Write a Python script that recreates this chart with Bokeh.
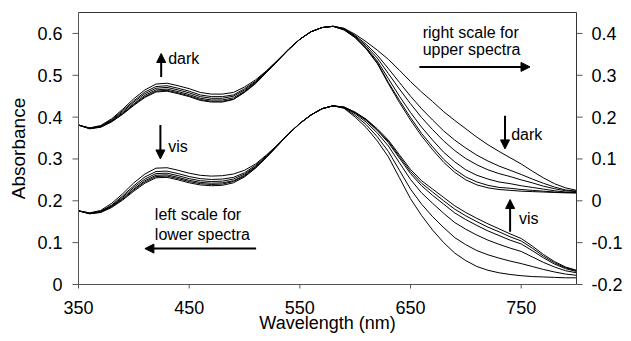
import math
from bokeh.plotting import figure
from bokeh.models import Range1d, Label, Arrow, NormalHead
from bokeh.core.properties import value
from bokeh.embed import file_html
from bokeh.resources import INLINE

wavelength = list(range(350, 801, 10))

# upper spectra (right scale)
upper_1 = [.181, .174, .180, .196, .219, .244, .265, .279, .281, .275,
           .268, .259, .255, .255, .259, .272, .289, .311, .336, .363,
           .386, .404, .414, .417, .408, .390, .363, .328, .280, .235,
           .193, .155, .122, .092, .068, .050, .038, .031, .027, .025,
           .023, .022, .021, .020, .019, .019]
upper_2 = [.181, .174, .178, .194, .216, .239, .260, .273, .275, .269,
           .262, .253, .249, .249, .253, .268, .286, .310, .336, .362,
           .386, .404, .414, .417, .409, .390, .364, .330, .283, .240,
           .199, .161, .129, .099, .075, .057, .045, .037, .032, .030,
           .027, .025, .023, .021, .020, .019]
upper_3 = [.181, .173, .178, .192, .213, .236, .256, .269, .271, .265,
           .258, .249, .245, .245, .250, .265, .284, .309, .335, .362,
           .386, .404, .414, .417, .410, .392, .366, .334, .292, .250,
           .211, .176, .145, .116, .093, .074, .061, .052, .045, .041,
           .036, .032, .028, .024, .021, .020]
upper_4 = [.181, .173, .177, .191, .210, .232, .252, .265, .267, .261,
           .254, .245, .241, .241, .246, .262, .283, .308, .335, .362,
           .386, .404, .414, .417, .411, .393, .370, .341, .304, .267,
           .232, .199, .170, .143, .120, .101, .086, .074, .065, .058,
           .050, .043, .035, .029, .024, .022]
upper_5 = [.181, .173, .176, .189, .208, .230, .249, .262, .264, .258,
           .251, .242, .238, .238, .243, .260, .281, .307, .335, .362,
           .386, .404, .414, .417, .412, .395, .374, .348, .316, .283,
           .250, .220, .193, .167, .145, .126, .109, .095, .083, .073,
           .063, .052, .042, .033, .026, .023]
upper_6 = [.181, .172, .176, .189, .207, .228, .247, .260, .262, .256,
           .249, .240, .236, .236, .242, .259, .280, .307, .334, .362,
           .386, .404, .414, .417, .412, .398, .380, .360, .338, .312,
           .285, .260, .237, .213, .192, .172, .152, .134, .118, .103,
           .088, .071, .055, .041, .031, .025]

# lower spectra (left scale)
lower_1 = [.176, .171, .177, .194, .217, .243, .264, .278, .279, .273,
           .266, .261, .259, .260, .264, .273, .288, .310, .334, .361,
           .385, .405, .420, .427, .421, .400, .375, .343, .305, .255,
           .205, .165, .130, .100, .075, .057, .043, .034, .028, .024,
           .021, .019, .018, .017, .016, .016]
lower_2 = [.176, .171, .175, .190, .212, .236, .257, .270, .271, .265,
           .258, .253, .251, .252, .256, .267, .285, .308, .334, .360,
           .385, .405, .420, .427, .422, .404, .382, .353, .318, .273,
           .228, .192, .162, .136, .112, .095, .081, .071, .063, .056,
           .050, .043, .036, .030, .025, .022]
lower_3 = [.176, .170, .174, .188, .209, .232, .252, .265, .266, .260,
           .253, .248, .246, .247, .252, .264, .282, .306, .333, .360,
           .385, .405, .420, .427, .423, .408, .388, .362, .331, .291,
           .251, .219, .194, .170, .148, .132, .118, .106, .096, .087,
           .079, .066, .053, .042, .033, .028]
lower_4 = [.176, .170, .173, .187, .206, .228, .248, .261, .262, .256,
           .249, .244, .242, .243, .248, .261, .281, .305, .333, .360,
           .385, .405, .420, .427, .423, .410, .392, .368, .339, .302,
           .265, .236, .213, .192, .171, .155, .141, .128, .117, .106,
           .097, .081, .064, .049, .038, .031]
lower_5 = [.176, .169, .173, .186, .204, .226, .245, .258, .259, .253,
           .246, .241, .239, .240, .246, .259, .279, .305, .332, .360,
           .385, .405, .420, .427, .424, .411, .394, .370, .342, .306,
           .270, .242, .221, .200, .180, .164, .150, .137, .126, .114,
           .104, .087, .068, .052, .040, .033]
lower_6 = [.176, .169, .172, .184, .202, .223, .242, .255, .256, .250,
           .243, .238, .236, .237, .243, .257, .278, .304, .332, .360,
           .385, .405, .420, .427, .424, .412, .395, .372, .345, .310,
           .275, .248, .228, .208, .188, .172, .158, .145, .133, .121,
           .110, .092, .072, .055, .042, .034]

x_ticks = [350, 450, 550, 650, 750]
x_tick_labels = ["350", "450", "550", "650", "750"]
left_ticks = [0, 0.1, 0.2, 0.3, 0.4, 0.5, 0.6]
left_tick_labels = ["0", "0.1", "0.2", "0.3", "0.4", "0.5", "0.6"]
right_ticks = [-0.2, -0.1, 0, 0.1, 0.2, 0.3, 0.4]
right_tick_labels = ["-0.2", "-0.1", "0", "0.1", "0.2", "0.3", "0.4"]

FONT = "Liberation Sans"
X_MIN, X_MAX = 350, 800
Y_MIN, Y_MAX = 0, 0.65
RIGHT_OFFSET = 0.2

# screen mapping: 1.10667 px per nm, 418.46 px per absorbance unit
PX_NM = 1.10667
PX_AB = 418.46
def dx(px):
    return px / PX_NM
def dy(px):
    return px / PX_AB

XR = (X_MIN - dx(78), X_MIN + dx(545))
YR = (Y_MIN - dy(49), Y_MIN + dy(284))

# whole canvas is the data frame; the axes are drawn with glyphs on the same scales
p = figure(width=623, height=333, output_backend="svg", toolbar_location=None,
           x_range=Range1d(*XR), y_range=Range1d(*YR),
           x_axis_location=None, y_axis_location=None,
           min_border_left=0, min_border_right=0, min_border_top=0, min_border_bottom=0)
p.styles = {"margin-bottom": "-8px"}
p.extra_y_ranges = {"right": Range1d(YR[0] - RIGHT_OFFSET, YR[1] - RIGHT_OFFSET)}
p.xgrid.visible = False
p.ygrid.visible = False
p.outline_line_color = None
p.background_fill_color = "white"
p.border_fill_color = "white"

for ys in [upper_1, upper_2, upper_3, upper_4, upper_5, upper_6]:
    p.line(wavelength, ys, y_range_name="right", line_color="black", line_width=1)
for ys in [lower_1, lower_2, lower_3, lower_4, lower_5, lower_6]:
    p.line(wavelength, ys, line_color="black", line_width=1)

AX = "#555555"
# box: top edge and right edge (dark), left and bottom axis lines (grey)
p.segment(x0=[X_MIN, X_MAX], y0=[Y_MAX, Y_MIN], x1=[X_MAX, X_MAX], y1=[Y_MAX, Y_MAX],
          line_color="#333333", line_width=1)
p.segment(x0=[X_MIN, X_MIN], y0=[Y_MIN, Y_MIN], x1=[X_MAX, X_MIN], y1=[Y_MIN, Y_MAX],
          line_color=AX, line_width=1)

# bottom ticks and labels
n = len(x_ticks)
p.segment(x0=x_ticks, y0=[Y_MIN] * n, x1=x_ticks, y1=[Y_MIN - dy(4)] * n,
          line_color=AX, line_width=1)
p.text(x=x_ticks, y=[Y_MIN - dy(22.5)] * n, text=x_tick_labels, text_font=value(FONT),
       text_font_size=value("18px"), text_color="black", text_align="center",
       text_baseline="middle")
p.text(x=[(X_MIN + X_MAX) / 2], y=[Y_MIN - dy(38)], text=["Wavelength (nm)"],
       text_font=value(FONT), text_font_size=value("18px"), text_color="black",
       text_align="center", text_baseline="middle")

# left ticks and labels
m = len(left_ticks)
p.segment(x0=[X_MIN] * m, y0=left_ticks, x1=[X_MIN - dx(6)] * m, y1=left_ticks,
          line_color=AX, line_width=1)
p.text(x=[X_MIN - dx(16)] * m, y=left_ticks, text=left_tick_labels, text_font=value(FONT),
       text_font_size=value("18px"), text_color="black", text_align="right",
       text_baseline="middle")
p.text(x=[X_MIN - dx(60)], y=[(Y_MIN + Y_MAX) / 2], text=["Absorbance"], angle=math.pi / 2,
       text_font=value(FONT), text_font_size=value("19px"), text_color="black",
       text_align="center", text_baseline="middle")

# right ticks and labels (right scale)
k = len(right_ticks)
p.segment(x0=[X_MAX] * k, y0=right_ticks, x1=[X_MAX + dx(6)] * k, y1=right_ticks,
          y_range_name="right", line_color=AX, line_width=1)
p.text(x=[X_MAX + dx(15)] * k, y=right_ticks, text=right_tick_labels,
       y_range_name="right", text_font=value(FONT), text_font_size=value("18px"),
       text_color="black", text_align="left", text_baseline="middle")

def lab(x, y, t):
    p.add_layout(Label(x=x, y=y, text=t, text_font=FONT, text_font_size="16px",
                       text_color="black", text_align="left", text_baseline="middle"))

def arr(x0, y0, x1, y1):
    p.add_layout(Arrow(end=NormalHead(size=9, fill_color="black", line_color="black"),
                       x_start=x0, y_start=y0, x_end=x1, y_end=y1,
                       line_color="black", line_width=2))

lab(661, 0.6015, "right scale for")
lab(661, 0.5609, "upper spectra")
arr(658, 0.520, 758, 0.520)

arr(424.7, 0.496, 424.7, 0.552)
lab(431, 0.5394, "dark")

arr(424, 0.381, 424, 0.300)
lab(431, 0.3291, "vis")

lab(419, 0.1666, "left scale for")
lab(419, 0.1188, "lower spectra")
arr(510.5, 0.0858, 410, 0.0858)

arr(735.4, 0.403, 735.4, 0.324)
lab(741, 0.3577, "dark")

arr(740, 0.126, 740, 0.203)
lab(748, 0.1570, "vis")

open("out.html", "w").write(file_html(p, INLINE))
